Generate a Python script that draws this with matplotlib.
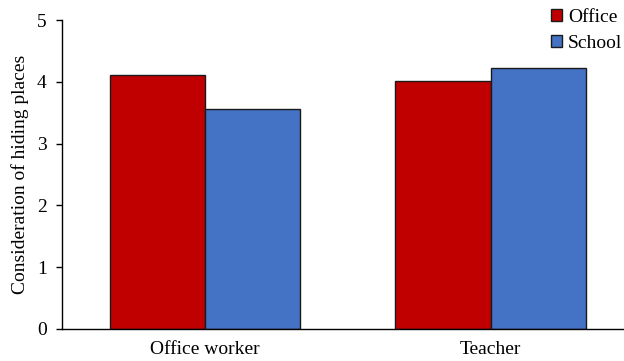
import matplotlib
matplotlib.use("Agg")
import matplotlib.pyplot as plt
import numpy as np

categories = ["Office worker", "Teacher"]
series_names = ["Office", "School"]
office_vals = [4.12, 4.02]
school_vals = [3.57, 4.23]
yticks = [0, 1, 2, 3, 4, 5]

plt.rcParams["font.family"] = ["Liberation Serif", "DejaVu Serif"]

fig = plt.figure(figsize=(6.24, 3.61), dpi=100)
ax = fig.add_axes([62 / 624, 32.3 / 361, 571.5 / 624, 308.4 / 361])

x = np.arange(len(categories))
w = 1 / 3
ax.bar(x - w / 2, office_vals, w, color="#C00000", edgecolor="#1a1a1a",
       linewidth=1.0, label=series_names[0])
ax.bar(x + w / 2, school_vals, w, color="#4472C4", edgecolor="#1a1a1a",
       linewidth=1.0, label=series_names[1])

ax.set_xlim(-0.5, 1.5)
ax.set_ylim(0, 5)
ax.set_yticks(yticks)
ax.set_xticks(x)
ax.set_xticklabels(categories, fontsize=14)
ax.tick_params(axis="x", length=0, pad=9)
ax.tick_params(axis="y", labelsize=14, length=4, width=1, direction="out", pad=7)
ax.set_ylabel("Consideration of hiding places", fontsize=14, labelpad=6)

for s in ("top", "right"):
    ax.spines[s].set_visible(False)
for s in ("left", "bottom"):
    ax.spines[s].set_linewidth(1.0)
    ax.spines[s].set_color("black")

leg = ax.legend(loc="upper right", bbox_to_anchor=(1.0 + 1 / 624, 1.0 - 6 / 361),
                bbox_transform=fig.transFigure, frameon=False, fontsize=14,
                handlelength=0.55, handleheight=0.55, handletextpad=0.3,
                labelspacing=0.45, borderaxespad=0.0, borderpad=0.15)

fig.savefig("out.png", dpi=100)
